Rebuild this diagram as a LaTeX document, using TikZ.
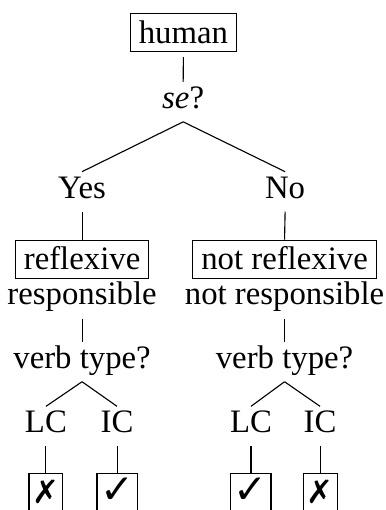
\documentclass[tikz,border=0pt]{standalone}
\usepackage{fontspec}
\setmainfont{Liberation Serif}
\newfontfamily\markfont{DejaVu Sans}
\usetikzlibrary{positioning}

\begin{document}
\begin{tikzpicture}[font=\fontsize{11.7}{13}\selectfont]
\tikzstyle{word}=[anchor=base,inner xsep=2pt,inner ysep=2.2pt,text height=7pt,text depth=2.5pt]
\tikzstyle{boxed}=[anchor=base,draw,inner sep=3pt,text height=7.6pt,text depth=0pt]
\tikzstyle{good}=[boxed,font=\markfont\fontsize{14.5}{15}\selectfont,inner xsep=0pt,minimum width=14.3pt]
\tikzstyle{nogood}=[boxed,font=\markfont\fontsize{11.5}{13}\selectfont,inner xsep=0pt,minimum width=12.1pt]
\useasboundingbox (0,0) rectangle (137.5pt,-182.1pt);
% top of the tree
\node[boxed] (human) at (65.5pt,-15.4pt)  {human};
\node[word]  (se)    at (65.4pt,-38.6pt)  {\textit{se}?};
\node[word]  (yes)   at (29.3pt,-70.7pt)  {Yes};
\node[word]  (no)    at (101.8pt,-70.7pt) {No};
% left branch
\node[boxed]  (refl)   at (29.3pt,-96.4pt)  {reflexive};
\node[word]   (resp)   at (29.3pt,-108.9pt) {responsible};
\node[word]   (vtL)    at (29.3pt,-131.4pt) {verb type?};
\node[word]   (lcL)    at (16.4pt,-154.5pt) {LC};
\node[word]   (icL)    at (41.8pt,-154.5pt) {IC};
\node[nogood] (lcLres) at (16.4pt,-179.6pt) {✗};
\node[good]   (icLres) at (41.8pt,-179.6pt) {✓};
% right branch
\node[boxed]  (nrefl)  at (101.6pt,-96.4pt)  {not reflexive};
\node[word]   (nresp)  at (101.6pt,-108.9pt) {not responsible};
\node[word]   (vtR)    at (101.6pt,-131.4pt) {verb type?};
\node[word]   (lcR)    at (89.6pt,-154.5pt)  {LC};
\node[word]   (icR)    at (114.3pt,-154.5pt) {IC};
\node[good]   (lcRres) at (89.6pt,-179.6pt)  {✓};
\node[nogood] (icRres) at (114.3pt,-179.6pt) {✗};
\draw[shorten <=1.8pt] (human.south) -- (se.north);
\draw (se.south) -- (yes.north);
\draw (se.south) -- (no.north);
\draw (yes.south) -- (refl.north);
\draw (no.south) -- (nrefl.north);
\draw (resp.south) -- (vtL.north);
\draw (nresp.south) -- (vtR.north);
\draw (vtL.south) -- (lcL.north);
\draw (vtL.south) -- (icL.north);
\draw (vtR.south) -- (lcR.north);
\draw (vtR.south) -- (icR.north);
\draw (lcL.south) -- (lcLres.north);
\draw (icL.south) -- (icLres.north);
\draw (lcR.south) -- (lcRres.north);
\draw (icR.south) -- (icRres.north);
\end{tikzpicture}
\end{document}
